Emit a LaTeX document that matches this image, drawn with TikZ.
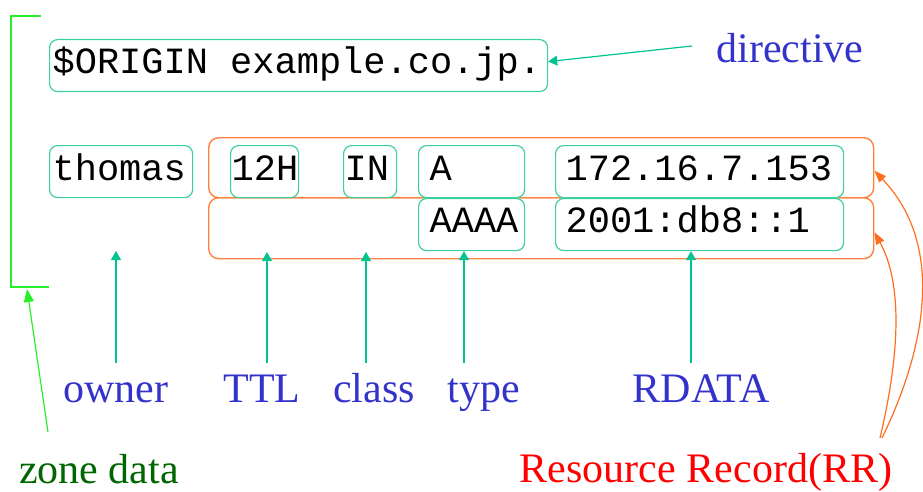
\documentclass[tikz,border=0pt]{standalone}
\usepackage{fontspec}
\setmainfont{Liberation Serif}
\setmonofont{Liberation Mono}[WordSpace={1,0,0}]
\usetikzlibrary{arrows.meta}
\definecolor{boxteal}{RGB}{60,208,160}
\definecolor{arrteal}{RGB}{0,195,145}
\definecolor{boxorange}{RGB}{255,130,60}
\definecolor{curveorange}{RGB}{255,110,30}
\definecolor{lblblue}{RGB}{51,51,204}
\definecolor{zonegreen}{RGB}{0,102,0}
\definecolor{brightgreen}{RGB}{40,240,40}
\definecolor{rrred}{RGB}{255,0,0}
\newcommand\monofs{\ttfamily\fontsize{37}{40}\selectfont}
\newcommand\lblfs{\rmfamily\fontsize{42}{48}\selectfont}
\tikzset{
  tbox/.style={draw=boxteal, line width=1.2pt, rounded corners=8pt, inner ysep=0pt,
    anchor=north west, align=flush left, font=\monofs},
  obox/.style={draw=boxorange, line width=1.4pt, rounded corners=10pt, inner sep=0pt,
    anchor=north west},
  lbl/.style={font=\lblfs, text=lblblue, anchor=base, inner sep=0pt},
  tealarrow/.style={draw=arrteal, line width=1.2pt, -{Triangle[length=9pt,width=10pt]}},
  orarrow/.style={draw=curveorange, line width=1.2pt, -{Triangle[length=12pt,width=9pt]}},
  grarrow/.style={draw=brightgreen, line width=1.2pt, -{Triangle[length=13pt,width=10pt]}},
}
\begin{document}
\begin{tikzpicture}[x=1pt,y=-1pt]
\useasboundingbox (0,0) rectangle (923,492);

% zone bracket
\coordinate (zt) at (41,16);
\coordinate (ztl) at (11,16);
\coordinate (zbl) at (11,287);
\coordinate (zb) at (49,287);
\draw[brightgreen, line width=1.2pt] (zt) -- (ztl) -- (zbl) -- (zb);

% directive
\node[tbox, inner xsep=3pt, text width=492pt, text height=34pt, text depth=18pt] (origin) at (49,39) {\spaceskip=0pt\relax\$ORIGIN example.co.jp.};

% resource record frames
\node[obox, minimum width=665pt, minimum height=60pt] (rr1) at (208,137) {};
\node[obox, minimum width=665pt, minimum height=61pt] (rr2) at (208,197) {};

% row 1
\node[tbox, inner xsep=3pt, text width=137pt, text height=35pt, text depth=17pt] (owner) at (49,145) {thomas};
\node[tbox, inner xsep=1pt, text width=66pt, text height=35pt, text depth=17pt] (ttl) at (230,145) {12H};
\node[tbox, inner xsep=1pt, text width=51pt, text height=35pt, text depth=17pt] (cls) at (343,145) {IN};
\node[tbox, inner xsep=11pt, text width=84pt, text height=35pt, text depth=17pt] (typeA) at (418,145) {A};
\node[tbox, inner xsep=10pt, text width=268pt, text height=35pt, text depth=17pt] (rdA) at (555,145) {172.16.7.153};

% row 2
\node[tbox, inner xsep=11pt, text width=84pt, text height=34pt, text depth=18pt] (typeAAAA) at (418,198) {AAAA};
\node[tbox, inner xsep=10pt, text width=268pt, text height=34pt, text depth=18pt] (rdAAAA) at (555,198) {2001:db8::1};

% labels
\node[lbl] (ldirective) at (790,63) {directive};
\node[lbl] (lowner) at (116,402) {owner};
\node[lbl] (lttl) at (262,402) {TTL};
\node[lbl] (lclass) at (374,402) {class};
\node[lbl] (ltype) at (484,402) {type};
\node[lbl] (lrdata) at (701,402) {RDATA};
\node[lbl, text=zonegreen] (lzone) at (99,483) {zone data};
\node[lbl, text=rrred] (lrr) at (706,482) {Resource Record(RR)};

% teal arrows
\coordinate (dstart) at (692,46);
\coordinate (dtip) at ([yshift=4pt]origin.east);
\draw[tealarrow] (dstart) -- (dtip);

\coordinate (os) at (116,363);
\coordinate (oe) at (116,251);
\draw[tealarrow] (os) -- (oe);
\coordinate (ts) at (267,363);
\coordinate (te) at (267,252);
\draw[tealarrow] (ts) -- (te);
\coordinate (cs) at (366,363);
\coordinate (ce) at (366,252);
\draw[tealarrow] (cs) -- (ce);
\coordinate (ys) at (464,363);
\draw[tealarrow] (ys) -- (typeAAAA.south -| ys);
\coordinate (rs) at (691,363);
\draw[tealarrow] (rs) -- (rdAAAA.south -| rs);

% zone data arrow
\coordinate (zs) at (48,432);
\coordinate (ze) at (27,289);
\draw[grarrow] (zs) -- (ze);

% RR curves
\coordinate (rrs1) at (880,438);
\coordinate (rrs2) at (882,438);
\coordinate (rre2) at ([yshift=-4pt]rr2.east);
\coordinate (rre1) at ([yshift=-3pt]rr1.east);
\draw[orarrow] (rrs1) .. controls (896,370) and (906,290) .. (rre2);
\draw[orarrow] (rrs2) .. controls (920,360) and (950,250) .. (rre1);
\end{tikzpicture}
\end{document}
